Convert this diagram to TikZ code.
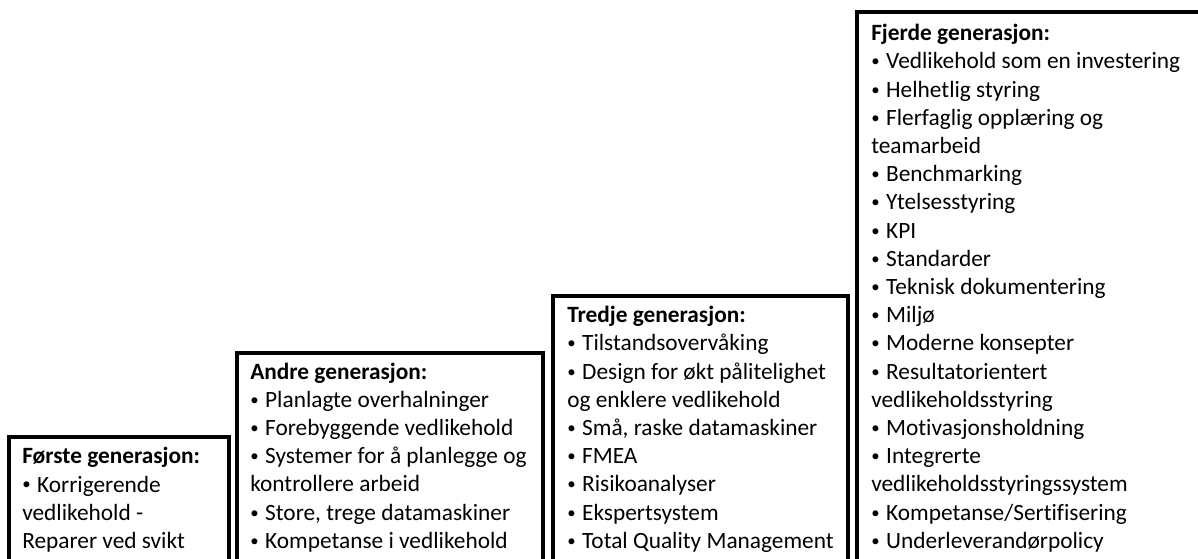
\documentclass[tikz,border=0pt]{standalone}
\usepackage{fontspec}
\setmainfont{Carlito}[Ligatures={NoCommon}]
% a smaller list bullet followed by a word space
\newcommand\gbul{\raisebox{0.09em}{\scalebox{0.72}{•}}\hspace{0.28em}}
\begin{document}
\begin{tikzpicture}[x=0.75pt,y=-0.75pt,
  genbox/.style={draw=black,line width=3pt},
  gentext/.style={anchor=north west,inner sep=0pt,align=left,
    font=\fontsize{17.5}{21.15}\selectfont}]
\useasboundingbox (0,0) rectangle (1198,558);
\clip (0,0) rectangle (1198,558);

% the four generation boxes, rising like stairs; their lower ends run off the page
\draw[genbox] (9,437) rectangle (229,600);
\draw[genbox] (237,353) rectangle (543,600);
\draw[genbox] (553,296) rectangle (848,600);
\draw[genbox] (857,12) rectangle (1230,600);

\node[gentext] (gen1) at (22,443.8) {\strut\textbf{Første generasjon:}\\
\gbul Korrigerende\\
vedlikehold -\\
Reparer ved svikt};

\node[gentext] (gen2) at (250,359.1) {\strut\textbf{Andre generasjon:}\\
\gbul Planlagte overhalninger\\
\gbul Forebyggende vedlikehold\\
\gbul Systemer for å planlegge og\\
kontrollere arbeid\\
\gbul Store, trege datamaskiner\\
\gbul Kompetanse i vedlikehold};

\node[gentext] (gen3) at (567,302.7) {\strut\textbf{Tredje generasjon:}\\
\gbul Tilstandsovervåking\\
\gbul Design for økt pålitelighet\\
og enklere vedlikehold\\
\gbul Små, raske datamaskiner\\
\gbul FMEA\\
\gbul Risikoanalyser\\
\gbul Ekspertsystem\\
\gbul Total Quality Management};

\node[gentext] (gen4) at (871,20.7) {\strut\textbf{Fjerde generasjon:}\\
\gbul Vedlikehold som en investering\\
\gbul Helhetlig styring\\
\gbul Flerfaglig opplæring og\\
teamarbeid\\
\gbul Benchmarking\\
\gbul Ytelsesstyring\\
\gbul KPI\\
\gbul Standarder\\
\gbul Teknisk dokumentering\\
\gbul Miljø\\
\gbul Moderne konsepter\\
\gbul Resultatorientert\\
vedlikeholdsstyring\\
\gbul Motivasjonsholdning\\
\gbul Integrerte\\
vedlikeholdsstyringssystem\\
\gbul Kompetanse/Sertifisering\\
\gbul Underleverandørpolicy};
\end{tikzpicture}
\end{document}
